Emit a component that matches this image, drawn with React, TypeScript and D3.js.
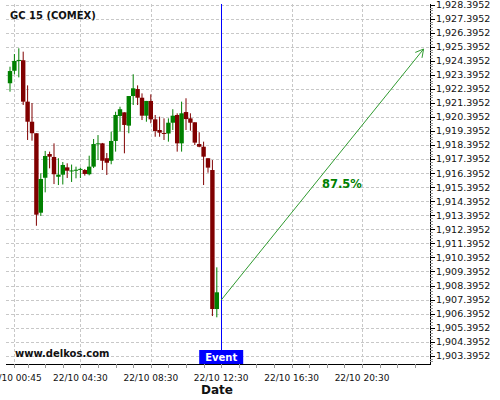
import React from 'react'
import * as d3 from 'd3'

// 15 minute candles, 22/10
const times = [
  '00:30', '00:45', '01:00', '01:15', '01:30', '01:45', '02:00', '02:15',
  '02:30', '02:45', '03:00', '03:15', '03:30', '03:45', '04:00', '04:15',
  '04:30', '04:45', '05:00', '05:15', '05:30', '05:45', '06:00', '06:15',
  '06:30', '06:45', '07:00', '07:15', '07:30', '07:45', '08:00', '08:15',
  '08:30', '08:45', '09:00', '09:15', '09:30', '09:45', '10:00', '10:15',
  '10:30', '10:45', '11:00', '11:15', '11:30', '11:45', '12:00', '12:15',
]
const opens = [
  1922.80, 1923.69, 1924.39, 1924.44, 1921.49, 1920.06, 1919.24, 1913.58,
  1916.07, 1917.76, 1917.55, 1916.14, 1916.29, 1916.81, 1916.55, 1916.60,
  1916.64, 1916.62, 1916.32, 1916.86, 1918.50, 1918.52, 1917.46, 1917.28,
  1918.69, 1920.47, 1920.73, 1919.78, 1921.89, 1922.39, 1921.77, 1920.49,
  1921.54, 1920.23, 1919.47, 1919.26, 1919.22, 1919.99, 1920.54, 1918.52,
  1920.75, 1920.30, 1920.02, 1918.47, 1918.28, 1917.46, 1916.62, 1906.72,
]
const highs = [
  1923.98, 1924.88, 1925.29, 1925.05, 1922.65, 1921.39, 1919.24, 1916.39,
  1917.98, 1917.93, 1918.52, 1917.46, 1917.19, 1917.10, 1917.01, 1916.86,
  1916.79, 1916.69, 1917.64, 1918.83, 1919.11, 1918.55, 1917.83, 1919.35,
  1920.77, 1921.13, 1920.73, 1921.89, 1923.44, 1922.65, 1922.08, 1921.54,
  1922.01, 1920.54, 1920.42, 1920.30, 1920.30, 1920.95, 1920.66, 1921.49,
  1921.73, 1920.66, 1920.02, 1919.31, 1918.64, 1917.46, 1917.33, 1909.69,
]
const lows = [
  1922.20, 1923.44, 1923.22, 1921.25, 1918.76, 1918.71, 1912.65, 1913.35,
  1915.03, 1916.74, 1915.62, 1915.55, 1915.59, 1916.05, 1915.77, 1916.03,
  1916.05, 1916.22, 1916.24, 1916.76, 1917.33, 1916.62, 1916.27, 1917.03,
  1917.93, 1919.35, 1917.81, 1919.24, 1921.25, 1921.25, 1920.18, 1920.06,
  1919.95, 1918.99, 1918.99, 1918.76, 1918.64, 1919.47, 1917.93, 1917.93,
  1919.47, 1919.42, 1918.40, 1918.24, 1915.55, 1916.43, 1906.22, 1906.13,
]
const closes = [
  1923.67, 1924.39, 1924.46, 1921.49, 1920.06, 1919.24, 1913.44, 1915.98,
  1917.62, 1917.57, 1916.32, 1916.29, 1916.98, 1916.57, 1916.59, 1916.64,
  1916.70, 1916.34, 1916.86, 1918.47, 1918.52, 1917.28, 1917.14, 1918.69,
  1920.54, 1920.95, 1919.83, 1921.89, 1922.44, 1921.77, 1920.49, 1921.54,
  1920.23, 1919.40, 1919.28, 1919.19, 1919.99, 1920.49, 1918.52, 1920.66,
  1920.25, 1919.99, 1918.57, 1918.28, 1917.57, 1916.79, 1906.72, 1907.91,
]

const xTickLabels = ['00:45', '04:30', '08:30', '12:30', '16:30', '20:30']
const yTickBase = 1903.3952
const yTickCount = 26

const eventTime = '12:30'
const arrowFrom = { time: '12:30', price: 1907.36 }
const arrowTo = { time: '24:00', price: 1925.24 }
const arrowLabel = '87.5%'

const title = 'GC 15 (COMEX)'
const site = 'www.delkos.com'

const W = 500
const H = 400
const left = 6
const right = 430
const top = 4
const bottom = 364

const UP = '#008000'
const DOWN = '#800000'
const FONT = 'DejaVu Sans, Verdana, sans-serif'

const toDate = (t: string) => {
  const [h, m] = t.split(':').map(Number)
  return new Date(2015, 9, 22, h, m)
}

export default function App() {
  const x = d3.scaleTime()
    .domain([toDate('00:45'), toDate('20:30')])
    .range([14.4, 362])
  const y = d3.scaleLinear()
    .domain([yTickBase, yTickBase + 25])
    .range([355.7, 4.7])

  const fmt = d3.format(',.4f')
  const tickFmt = d3.timeFormat('%d/%m %H:%M')
  const yTicks = d3.range(yTickCount).map(i => yTickBase + i)
  const [pLo, pHi] = [y.invert(bottom), y.invert(top)]
  const yMinor = d3.range(Math.ceil((pLo - yTickBase) / 0.2), Math.floor((pHi - yTickBase) / 0.2) + 1)
    .map(k => yTickBase + k * 0.2)
  const xMinor = d3.range(1, 24).map(h => new Date(2015, 9, 22, h, 30))
    .filter(d => x(d) > left && x(d) < right)

  const candles = times.map((t, i) => ({
    t: toDate(t), o: opens[i], h: highs[i], l: lows[i], c: closes[i],
  }))
  const bw = 4.4

  const ax1 = x(toDate(arrowFrom.time)), ay1 = y(arrowFrom.price)
  const ax2 = x(toDate(arrowTo.time)), ay2 = y(arrowTo.price)
  const ang = Math.atan2(ay2 - ay1, ax2 - ax1)
  const head = [ang + Math.PI - 0.5, ang + Math.PI + 0.5].map(a => [ax2 + 9 * Math.cos(a), ay2 + 9 * Math.sin(a)])

  const ex = x(toDate(eventTime))

  return (
    <svg width={W} height={H} style={{ position: 'absolute', left: 0, top: 0, background: '#fff' }} fontFamily={FONT}>
      <rect x={0} y={0} width={W} height={H} fill="#fff" />
      {/* grid */}
      {yTicks.map(v => (
        <line key={'gy' + v} x1={left} x2={right} y1={Math.round(y(v)) + 0.5} y2={Math.round(y(v)) + 0.5}
          stroke="#c8c8c8" strokeDasharray="3,2" />
      ))}
      {xTickLabels.map(t => (
        <line key={'gx' + t} x1={Math.round(x(toDate(t))) + 0.5} x2={Math.round(x(toDate(t))) + 0.5} y1={top} y2={bottom}
          stroke="#c8c8c8" strokeDasharray="3,2" />
      ))}

      <text x={10} y={19} fontSize={10} fontWeight="bold" fill="#111">{title}</text>

      {/* candles */}
      {candles.map((d, i) => {
        const col = d.c >= d.o ? UP : DOWN
        const cx = x(d.t)
        const yt = y(Math.max(d.o, d.c)), yb = y(Math.min(d.o, d.c))
        return (
          <g key={i}>
            <line x1={cx} x2={cx} y1={y(d.h)} y2={y(d.l)} stroke={col} strokeWidth={1} />
            <rect x={cx - bw / 2} y={yt} width={bw} height={Math.max(1, yb - yt)} fill={col} />
          </g>
        )
      })}

      {/* event */}
      <line x1={Math.round(ex) + 0.5} x2={Math.round(ex) + 0.5} y1={top} y2={bottom} stroke="#0000ff" strokeWidth={1} />
      <rect x={ex - 22} y={350} width={44} height={14} fill="#0000ff" />
      <text x={ex} y={361} fontSize={10} fontWeight="bold" fill="#fff" textAnchor="middle">Event</text>

      {/* forecast arrow */}
      <line x1={ax1} y1={ay1} x2={ax2} y2={ay2} stroke="#2f9a2f" strokeWidth={1} />
      {head.map((p, i) => (
        <line key={'h' + i} x1={ax2} y1={ay2} x2={p[0]} y2={p[1]} stroke="#2f9a2f" strokeWidth={1} />
      ))}
      <text x={322} y={187.5} fontSize={11.5} fontWeight="bold" fill={UP}>{arrowLabel}</text>

      <text x={15} y={357} fontSize={10} fontWeight="bold" fill="#111">{site}</text>

      {/* right axis */}
      <line x1={right + 0.5} x2={right + 0.5} y1={top} y2={bottom} stroke="#000" />
      {yMinor.map((v, i) => (
        <line key={'ym' + i} x1={right} x2={right + 3} y1={Math.round(y(v)) + 0.5} y2={Math.round(y(v)) + 0.5} stroke="#999" />
      ))}
      {yTicks.map(v => (
        <g key={'yt' + v}>
          <line x1={right} x2={right + 5} y1={Math.round(y(v)) + 0.5} y2={Math.round(y(v)) + 0.5} stroke="#000" />
          <text x={436} y={y(v)} dy="0.35em" fontSize={9.5} fill="#111">{fmt(v)}</text>
        </g>
      ))}

      {/* bottom axis */}
      <line x1={left} x2={right + 1} y1={bottom + 0.5} y2={bottom + 0.5} stroke="#000" />
      {xMinor.map((d, i) => (
        <line key={'xm' + i} x1={Math.round(x(d)) + 0.5} x2={Math.round(x(d)) + 0.5} y1={bottom} y2={bottom + 4} stroke="#999" />
      ))}
      {xTickLabels.map(t => (
        <g key={'xt' + t}>
          <line x1={Math.round(x(toDate(t))) + 0.5} x2={Math.round(x(toDate(t))) + 0.5} y1={bottom} y2={bottom + 4} stroke="#999" />
          <text x={x(toDate(t))} y={380.5} fontSize={9} fill="#111" textAnchor="middle">{tickFmt(toDate(t))}</text>
        </g>
      ))}
      <text x={217} y={394} fontSize={12} fontWeight="bold" fill="#111" textAnchor="middle">Date</text>
    </svg>
  )
}
